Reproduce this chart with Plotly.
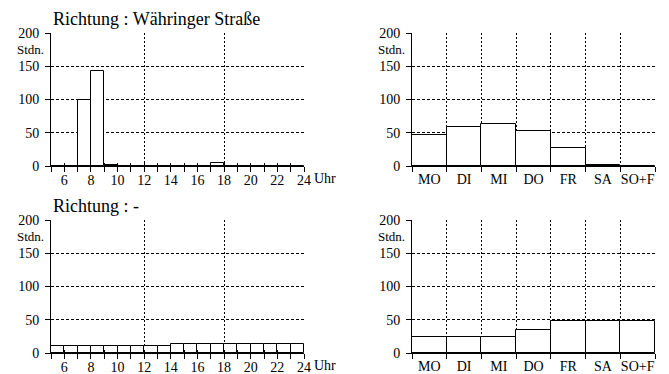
import plotly.graph_objects as go

# ---- data ----
hours = list(range(5, 24))  # start hour of each bin (bar spans hour..hour+1)
top_hour_vals = [0, 0, 100, 143, 2, 0, 0, 0, 0, 0, 0, 0, 5, 0, 0, 0, 0, 0, 0]
bot_hour_vals = [11, 11, 11, 11, 11, 11, 11, 11, 11, 13, 13, 13, 13, 13, 13, 13, 13, 13, 13]
days = ["MO", "DI", "MI", "DO", "FR", "SA", "SO+F"]
top_day_vals = [47, 59, 63, 53, 27, 1, 0]
bot_day_vals = [24, 24, 24, 34, 48, 48, 48]
hour_ticks = [6, 8, 10, 12, 14, 16, 18, 20, 22, 24]
hour_grid = [12, 18, 24]
y_ticks = [0, 50, 100, 150, 200]
titles = ["Richtung : Währinger Straße", "Richtung : -"]

FONT = "Liberation Serif, Times New Roman, Times, serif"
PAGE_OFF = 8            # default body margin of the html page
W, H = 669 - PAGE_OFF, 374 - PAGE_OFF

def px_x(a, b):
    return [(a - PAGE_OFF) / W, (b - PAGE_OFF) / W]

def px_y(top, bottom):
    return [1 - (bottom - PAGE_OFF) / H, 1 - (top - PAGE_OFF) / H]

fig = go.Figure()

bar_style = dict(marker=dict(color="white", line=dict(color="black", width=1)), showlegend=False, hoverinfo="skip")
fig.add_trace(go.Bar(x=hours, y=top_hour_vals, width=1, offset=0, xaxis="x", yaxis="y", **bar_style))
fig.add_trace(go.Bar(x=days, y=top_day_vals, xaxis="x2", yaxis="y2", **bar_style))
fig.add_trace(go.Bar(x=hours, y=bot_hour_vals, width=1, offset=0, xaxis="x3", yaxis="y3", **bar_style))
fig.add_trace(go.Bar(x=days, y=bot_day_vals, xaxis="x4", yaxis="y4", **bar_style))
# invisible traces so overlay axes get drawn
for xa, ya in [("x5", "y"), ("x6", "y3"), ("x7", "y"), ("x8", "y3")]:
    fig.add_trace(go.Scatter(x=[5], y=[0], mode="markers", marker=dict(opacity=0), xaxis=xa, yaxis=ya,
                             showlegend=False, hoverinfo="skip"))

tickfont = dict(family=FONT, size=14, color="black")

def yaxis(dom, anchor):
    return dict(domain=dom, anchor=anchor, range=[0, 200], tickvals=y_ticks, ticks="outside",
                ticklen=5, tickcolor="black", showline=True, linecolor="black", linewidth=1,
                showgrid=True, gridcolor="black", gridwidth=1, griddash="3px,2px",
                zeroline=False, tickfont=tickfont, ticklabelstandoff=3, fixedrange=True)

def hour_axis(dom, anchor):
    return dict(domain=dom, anchor=anchor, range=[5, 24], tickvals=hour_ticks, ticks="outside",
                ticklen=5, tickcolor="black", showline=True, linecolor="black", linewidth=1,
                showgrid=False, zeroline=False, tickfont=tickfont, ticklabelstandoff=-4, tickangle=0,
                fixedrange=True)

def hour_minor_axis(over, anchor):
    # every-hour ticks below the axis line
    return dict(overlaying=over, anchor=anchor, range=[5, 24], tickvals=hours + [24], ticks="outside",
                ticklen=5, tickcolor="black", showticklabels=False, showline=False, showgrid=False,
                zeroline=False, fixedrange=True)

def overlay_axis(over, anchor):
    # dotted vertical grid + every-hour ticks above the axis line
    return dict(overlaying=over, anchor=anchor, range=[5, 24], tickvals=hour_grid, ticks="inside",
                ticklen=3, tickcolor="black", showticklabels=False, showline=False,
                showgrid=True, gridcolor="black", gridwidth=1, griddash="2px,2px", zeroline=False,
                minor=dict(dtick=1, ticks="inside", ticklen=3, tickcolor="black", showgrid=False),
                fixedrange=True)

def day_axis(dom, anchor):
    return dict(domain=dom, anchor=anchor, type="category", tickson="boundaries", ticks="outside",
                ticklen=5, tickcolor="black", showline=True, linecolor="black", linewidth=1,
                showgrid=True, gridcolor="black", gridwidth=1, griddash="2px,2px", tickangle=0,
                tickfont=tickfont, ticklabelstandoff=0, range=[-0.5, 6.5], fixedrange=True)

left = px_x(51, 304)
right = px_x(412, 655)
top = px_y(33, 166)
bot = px_y(220, 353)

fig.update_layout(
    width=W, height=H, margin=dict(l=0, r=0, t=0, b=0, autoexpand=False),
    paper_bgcolor="white", plot_bgcolor="white", bargap=0,
    font=dict(family=FONT, size=14, color="black"),
    xaxis=hour_axis(left, "y"), yaxis=yaxis(top, "x"),
    xaxis2=day_axis(right, "y2"), yaxis2=yaxis(top, "x2"),
    xaxis3=hour_axis(left, "y3"), yaxis3=yaxis(bot, "x3"),
    xaxis4=day_axis(right, "y4"), yaxis4=yaxis(bot, "x4"),
    xaxis5=overlay_axis("x", "y"), xaxis6=overlay_axis("x3", "y3"),
    xaxis7=hour_minor_axis("x", "y"), xaxis8=hour_minor_axis("x3", "y3"),
)

ann = []
for (xa, ya), t in zip([("x", "y"), ("x3", "y3")], titles):
    ann.append(dict(text=t, xref=f"{xa} domain", yref=f"{ya} domain", x=0, y=1, xanchor="left",
                    yanchor="bottom", yshift=2, showarrow=False, font=dict(family=FONT, size=18, color="black")))
    ann.append(dict(text="Uhr", xref=f"{xa} domain", yref=f"{ya} domain", x=1, y=0, xanchor="left",
                    yanchor="top", xshift=8, yshift=-3, showarrow=False, font=dict(family=FONT, size=14, color="black")))
for xa, ya in [("x", "y"), ("x2", "y2"), ("x3", "y3"), ("x4", "y4")]:
    ann.append(dict(text="Stdn.", xref=f"{xa} domain", yref=f"{ya} domain", x=0, y=0.875, xanchor="right",
                    yanchor="middle", xshift=-5, showarrow=False, font=dict(family=FONT, size=13, color="black")))
fig.update_layout(annotations=ann)

fig.write_html("out.html")
